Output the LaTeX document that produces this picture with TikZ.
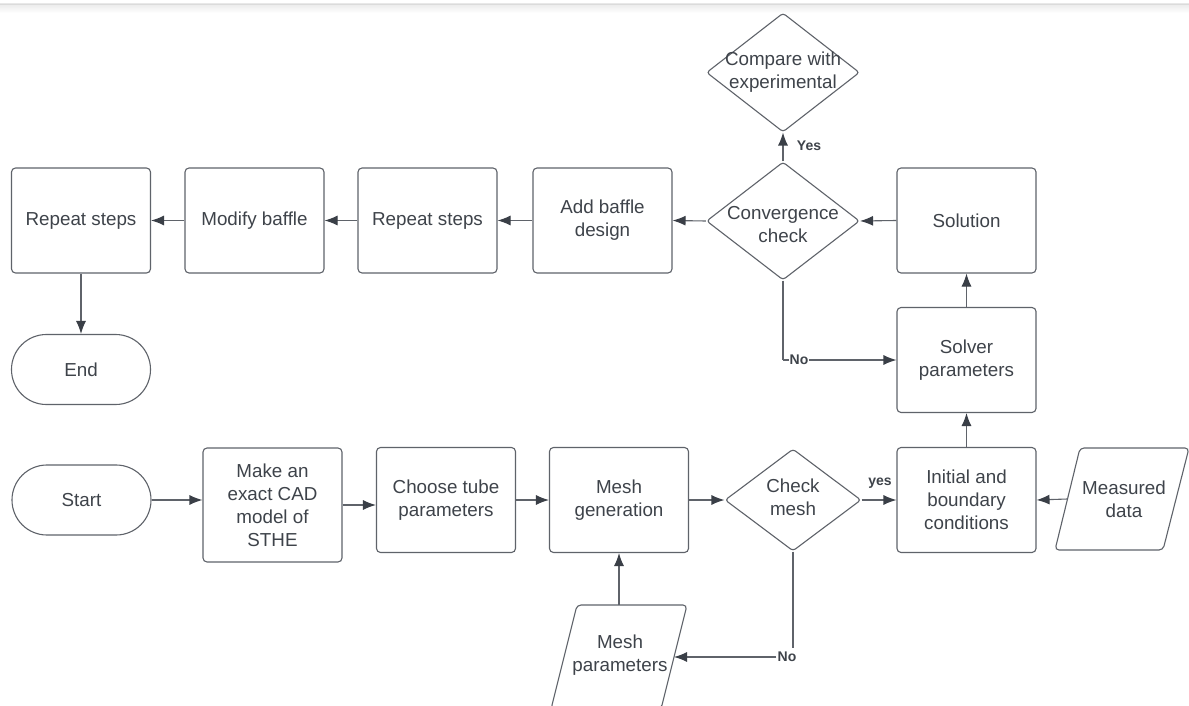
\documentclass[tikz,border=0pt]{standalone}
\usepackage{fontspec}
\setmainfont{Liberation Sans}
\usetikzlibrary{shapes.geometric,arrows.meta}
\definecolor{ln}{HTML}{5F636A}
\definecolor{tx}{HTML}{3E434A}
\definecolor{ah}{HTML}{3A3F47}
\tikzset{
 base/.style={draw=ln, line width=1.1pt, text=tx, font=\fontsize{18.8}{23}\selectfont, align=center, inner sep=0pt},
 box/.style={base, rectangle, rounded corners=4pt, minimum width=139pt, minimum height=105pt},
 term/.style={base, rectangle, rounded corners=34.9pt, minimum width=139pt, minimum height=70pt},
 dia/.style={base, diamond, rounded corners=3pt},
 iofig/.style={draw=ln, line width=1.1pt, rounded corners=4pt},
 lbl/.style={text=tx, font=\fontsize{18.8}{23}\selectfont, align=center, inner sep=0pt},
 tag/.style={text=tx, font=\bfseries\fontsize{14}{16}\selectfont, inner sep=1pt, fill=white},
 conn/.style={draw=ln, line width=1.1pt, -{Latex[length=13pt,width=10pt,color=ah]}},
 plain/.style={draw=ln, line width=1.1pt},
}
\begin{document}
\begin{tikzpicture}[x=1pt,y=-1pt]
\clip (0,0) rectangle (1189,706);
\fill[white] (0,0) rectangle (1189,706);
% top edge line
\shade[top color=gray!16, bottom color=white] (0,4) rectangle (1189,13);
\draw[gray!28, line width=0.6pt] (0,4) -- (1189,4);

% top row
\node[box] (rep1) at (81,220.5) {Repeat steps};
\node[box] (mod) at (254.5,220.5) {Modify baffle};
\node[box] (rep2) at (427.5,220.5) {Repeat steps};
\node[box] (add) at (602.5,220.5) {Add baffle\\design};
\node[dia, minimum width=153pt, minimum height=118pt] (cc) at (783,221) {};
\node[lbl] (cct) at (783,225) {Convergence\\check};
\node[dia, minimum width=153pt, minimum height=119pt] (cmp) at (783,72.5) {};
\node[lbl] (cmpt) at (783,72) {Compare with\\experimental};
\node[box] (sol) at (966.5,220.5) {Solution};
\node[box] (sp) at (966.5,360) {Solver\\parameters};
\node[term] (end) at (81,369.5) {End};

% bottom row
\node[term] (start) at (81.5,500) {Start};
\node[box, minimum height=114pt] (cad) at (272.5,505) {Make an\\exact CAD\\model of\\STHE};
\node[box] (ch) at (446,500) {Choose tube\\parameters};
\node[box] (mg) at (619,500) {Mesh\\generation};
\node[dia, minimum width=136pt, minimum height=102pt] (chk) at (793,500) {};
\node[lbl] (chkt) at (793,497) {Check\\mesh};
\node[box] (ibc) at (966.5,500) {Initial and\\boundary\\conditions};

% measured data (parallelogram)
\draw[iofig] (1055,550) -- (1080,448) -- (1189,448) -- (1163,550) -- cycle;
\node[lbl] (md) at (1124,499) {Measured\\data};
\coordinate (mdl) at (1067.5,499);

% mesh parameters (parallelogram)
\draw[iofig] (551,709) -- (577,605) -- (687,605) -- (661,709) -- cycle;
\node[lbl] (mpt) at (620,655) {Mesh\\parameters};
\coordinate (mpr) at (674,657);
\coordinate (mptop) at (619,605);

% connectors bottom row
\draw[conn] (start.east) -- (cad.west |- start.east);
\draw[conn] (cad.east) -- (cad.east -| ch.west);
\draw[conn] (ch.east) -- (mg.west);
\draw[conn] (mg.east) -- (chk.west);
\draw[conn] (chk.east) -- (ibc.west);
\node[tag, fill=none] (yes1) at (880,483) {yes};
\draw[conn] (mdl) -- (ibc.east);
\draw[conn] (mptop) -- (mg.south);
\draw[plain] (chk.south) -- (793,648);
\node[tag] (no1) at (787,657) {No};
\draw[conn] (no1.west) -- (mpr);

% right column
\draw[conn] (ibc.north) -- (sp.south);
\draw[conn] (sp.north) -- (sol.south);
\draw[conn] (sol.west) -- (cc.east);
\draw[plain] (cc.south) -- (783,360);
\draw[conn] (783,360) -- (sp.west);
\node[tag] (no2) at (799,360) {No};

% top row connectors
\draw[conn] (cc.west) -- (add.east);
\draw[conn] (add.west) -- (rep2.east);
\draw[conn] (rep2.west) -- (mod.east);
\draw[conn] (mod.west) -- (rep1.east);
\draw[conn] (rep1.south) -- (end.north);
\draw[conn] (cc.north) -- (cmp.south);
\node[tag, fill=none] (yes2) at (809,146) {Yes};
\end{tikzpicture}
\end{document}
